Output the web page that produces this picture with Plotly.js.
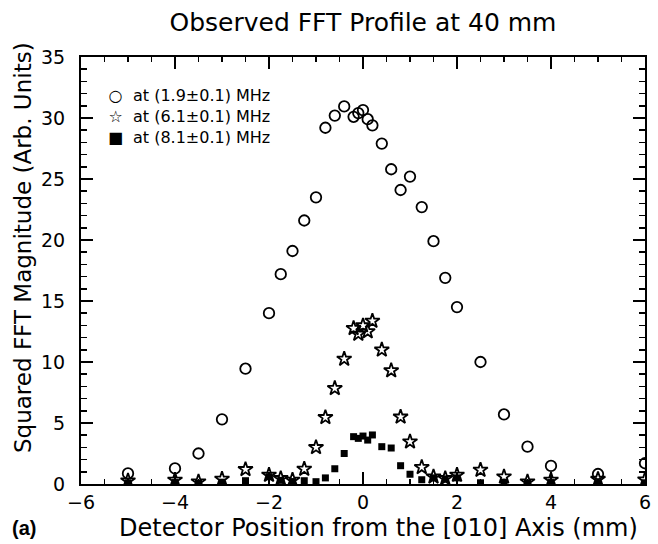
<!DOCTYPE html>
<html><head><meta charset="utf-8">
<script src="https://cdn.plot.ly/plotly-3.0.1.min.js"></script>
<style>html,body{margin:0;padding:0;background:#fff}</style>
</head><body><div id="chart" style="width:658px;height:544px"></div>
<script>
// Detector position (mm)
const positions = [-5, -4, -3.5, -3, -2.5, -2, -1.75, -1.5, -1.25, -1, -0.8, -0.6, -0.4, -0.2, -0.1, 0, 0.1, 0.2, 0.4, 0.6, 0.8, 1.0, 1.25, 1.5, 1.75, 2, 2.5, 3, 3.5, 4, 5, 6];
// Squared FFT magnitude at 1.9 MHz
const mag19 = [0.87, 1.28, 2.5, 5.3, 9.45, 14.0, 17.2, 19.1, 21.6, 23.5, 29.2, 30.2, 30.95, 30.1, 30.4, 30.65, 29.9, 29.4, 27.9, 25.8, 24.1, 25.2, 22.7, 19.9, 16.9, 14.5, 10.0, 5.7, 3.06, 1.48, 0.82, 1.7];
// at 6.1 MHz
const mag61 = [0.27, 0.33, 0.19, 0.41, 1.2, 0.74, 0.46, 0.33, 1.23, 3.0, 5.46, 7.84, 10.25, 12.76, 12.3, 12.98, 12.5, 13.36, 11.0, 9.3, 5.5, 3.47, 1.37, 0.6, 0.46, 0.74, 1.15, 0.6, 0.19, 0.33, 0.4, 0.35];
// at 8.1 MHz
const mag81 = [0.1, 0.12, 0.05, 0.15, 0.27, 0.6, 0.3, 0.2, 0.27, 0.19, 0.5, 1.25, 2.5, 3.88, 3.74, 3.93, 3.6, 4.02, 3.06, 2.95, 1.5, 0.8, 0.35, 0.5, 0.41, 0.5, 0.1, 0.15, 0.08, 0.12, 0.1, 0.1];
const seriesNames = ['at (1.9±0.1) MHz', 'at (6.1±0.1) MHz', 'at (8.1±0.1) MHz'];
const legendGlyphs = ['○', '☆', '■'];
const xTickVals = [-6, -4, -2, 0, 2, 4, 6];
const yTickVals = [0, 5, 10, 15, 20, 25, 30, 35];

const FONT = 'DejaVu Sans, Liberation Sans, sans-serif';
const W = 658, H = 544, L = 81, R = 13, T = 57, B = 60;
const pw = W - L - R, ph = H - T - B;
const px2x = p => (p - L) / pw;
const px2y = p => (H - B - p) / ph;

const traces = [
  {x: positions, y: mag19, name: seriesNames[0], mode: 'markers', type: 'scatter',
   marker: {symbol: 'circle-open', size: 10.5, color: '#000', line: {width: 1.8, color: '#000'}}},
  {x: positions, y: mag61, name: seriesNames[1], mode: 'markers', type: 'scatter',
   marker: {symbol: 'star-open', size: 11, color: '#000', line: {width: 1.8, color: '#000'}}},
  {x: positions, y: mag81, name: seriesNames[2], mode: 'markers', type: 'scatter',
   marker: {symbol: 'square', size: 7, color: '#000', line: {width: 0}}}
];

const annotations = [];
// legend block: one multi-line text for glyphs, one for labels
annotations.push({xref: 'paper', yref: 'paper', x: px2x(115), y: px2y(116), text: legendGlyphs.join('<br>'),
  showarrow: false, xanchor: 'center', yanchor: 'middle', align: 'center', font: {family: FONT, size: 16, color: '#000'}});
annotations.push({xref: 'paper', yref: 'paper', x: px2x(131), y: px2y(116), text: seriesNames.join('<br>'),
  showarrow: false, xanchor: 'left', yanchor: 'middle', align: 'left', font: {family: FONT, size: 16, color: '#000'}});
annotations.push({xref: 'paper', yref: 'paper', x: px2x(378), y: px2y(528), text: 'Detector Position from the [010] Axis (mm)',
  showarrow: false, xanchor: 'center', yanchor: 'middle', font: {family: FONT, size: 24, color: '#000'}});
annotations.push({xref: 'paper', yref: 'paper', x: px2x(24), y: px2y(528), text: '<b>(a)</b>',
  showarrow: false, xanchor: 'center', yanchor: 'middle', font: {family: 'Liberation Sans, Arial, sans-serif', size: 20, color: '#000'}});
annotations.push({xref: 'paper', yref: 'paper', x: px2x(23), y: px2y(248), text: 'Squared FFT Magnitude (Arb. Units)',
  textangle: -90, showarrow: false, xanchor: 'center', yanchor: 'middle', font: {family: FONT, size: 23, color: '#000'}});

const axisCommon = {
  showline: true, linewidth: 2, linecolor: '#000', mirror: 'ticks',
  ticks: 'inside', ticklen: 12, tickwidth: 1.5, tickcolor: '#000',
  showgrid: false, zeroline: false,
  tickfont: {family: FONT, size: 19, color: '#000'}
};

const layout = {
  width: W, height: H,
  margin: {l: L, r: R, t: T, b: B, pad: 0},
  paper_bgcolor: '#fff', plot_bgcolor: '#fff',
  showlegend: false,
  title: {text: 'Observed FFT Profile at 40 mm', x: 0.5, xref: 'paper', xanchor: 'center',
          y: 1 - 22 / H, yref: 'container', yanchor: 'middle',
          font: {family: FONT, size: 25, color: '#000'}},
  xaxis: Object.assign({}, axisCommon, {
    range: [-6, 6], tickmode: 'array', tickvals: xTickVals,
    ticktext: xTickVals.map(v => v < 0 ? '\u2212' + Math.abs(v) : String(v)),
    ticklabelstandoff: 0,
    minor: {dtick: 0.5, ticks: 'inside', ticklen: 5, tickwidth: 1.5, tickcolor: '#000', showgrid: false}
  }),
  yaxis: Object.assign({}, axisCommon, {
    range: [0, 35], tickmode: 'array', tickvals: yTickVals,
    ticklabelstandoff: 10,
    minor: {dtick: 1, ticks: 'inside', ticklen: 6, tickwidth: 1.5, tickcolor: '#000', showgrid: false}
  }),
  annotations: annotations
};

Plotly.newPlot('chart', traces, layout, {displayModeBar: false, staticPlot: true});
</script>
</body></html>
